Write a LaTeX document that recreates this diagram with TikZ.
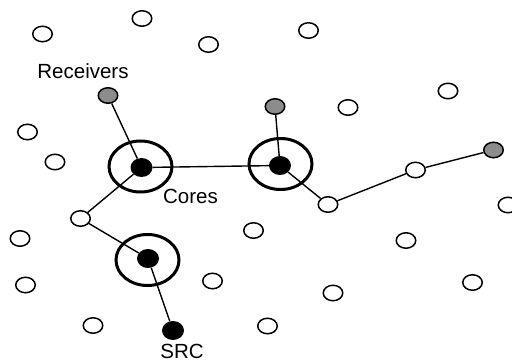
\documentclass[tikz,border=0pt]{standalone}
\usepackage{fontspec}
\setmainfont{Liberation Sans}
\usetikzlibrary{shapes.geometric}
\begin{document}
\begin{tikzpicture}[x=1pt,y=-1pt,
  host/.style={ellipse,draw,line width=1.5pt,fill=white,minimum width=19.5pt,minimum height=15.5pt,inner sep=0pt},
  recv/.style={host,fill=black!45},
  core/.style={ellipse,fill=black,minimum width=22pt,minimum height=19pt,inner sep=0pt},
  ring/.style={ellipse,draw,line width=3pt,minimum width=63pt,minimum height=51pt,inner sep=0pt},
  link/.style={line width=1.4pt},
  lbl/.style={inner sep=0pt,font=\fontsize{20.5}{21}\selectfont}]
\useasboundingbox (0,0) rectangle (512,361);

% plain hosts
\node[host] (h1)  at (42.5,34)  {};
\node[host] (h2)  at (142,18.5) {};
\node[host] (h3)  at (208.5,44.5) {};
\node[host] (h4)  at (308.5,30.5) {};
\node[host] (h5)  at (448,91)   {};
\node[host] (h6)  at (348,107.5) {};
\node[host] (h7)  at (27.5,132) {};
\node[host] (h8)  at (55,162)   {};
\node[host] (h9)  at (415.5,170) {};
\node[host] (h10) at (80.5,218.5) {};
\node[host] (h11) at (20,238.5) {};
\node[host] (h12) at (25.5,285) {};
\node[host] (h13) at (212.5,281) {};
\node[host] (h14) at (93,325.5) {};
\node[host] (h15) at (253.5,230.5) {};
\node[host] (h16) at (328,204.5) {};
\node[host] (h17) at (508,205) {};
\node[host] (h18) at (406,240.5) {};
\node[host] (h19) at (472.5,282.5) {};
\node[host] (h20) at (333,293) {};
\node[host] (h21) at (267.5,326) {};

% receivers
\node[recv] (r1) at (108,95.5) {};
\node[recv] (r2) at (275,106.5) {};
\node[recv] (r3) at (493.5,150) {};

% cores with their rings, and the source
\node[ring] (ring1) at (140.5,166.5) {};
\node[core] (c1) at (141.5,167.5) {};
\node[ring] (ring2) at (280.5,164) {};
\node[core] (c2) at (280,165.5) {};
\node[ring] (ring3) at (147.5,260) {};
\node[core] (c3) at (148,258.5) {};
\node[core] (src) at (173,330.5) {};

% tree links
\draw[link] (r1) -- (c1);
\draw[link] (c1) -- (c2);
\draw[link] (c2) -- (r2);
\draw[link] (c2) -- (h16);
\draw[link] (h16) -- (h9);
\draw[link] (h9) -- (r3);
\draw[link] (c1) -- (h10);
\draw[link] (h10) -- (c3);
\draw[link] (c3) -- (src);

% labels
\node[lbl] (lrecv) at (83,71) {Receivers};
\node[lbl] (lcore) at (190.5,196) {Cores};
\node[lbl] (lsrc)  at (182,351) {SRC};
\end{tikzpicture}
\end{document}
